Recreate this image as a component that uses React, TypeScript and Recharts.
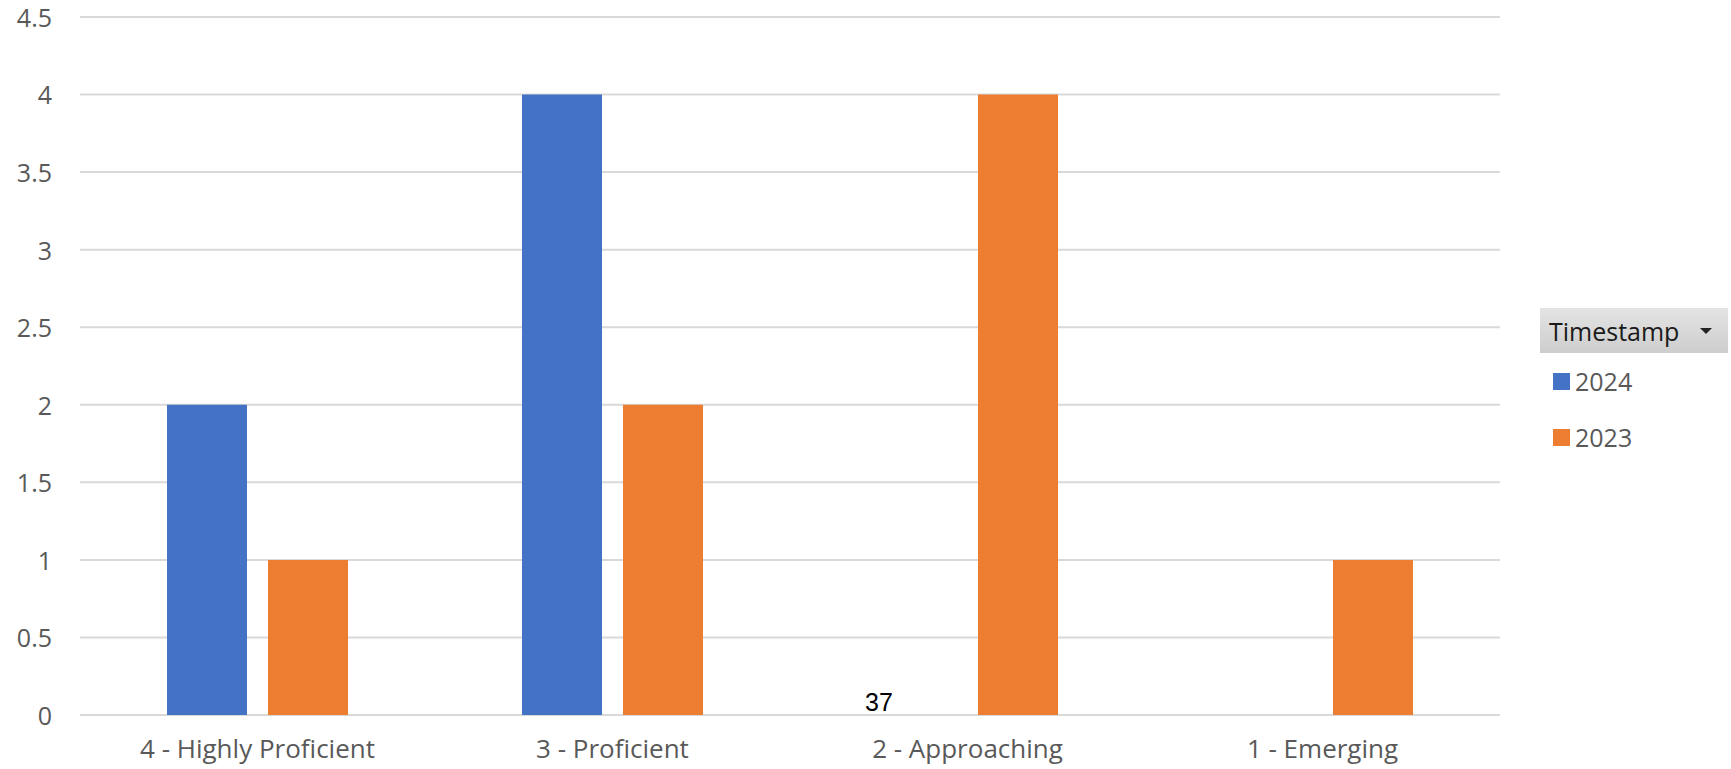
import { BarChart, Bar, XAxis, YAxis, CartesianGrid } from 'recharts';

const categories = ['4 - Highly Proficient', '3 - Proficient', '2 - Approaching', '1 - Emerging'];
const values2024 = [2, 4, 0, 0];
const values2023 = [1, 2, 4, 1];
const yTicks = [0, 0.5, 1, 1.5, 2, 2.5, 3, 3.5, 4, 4.5];
const seriesNames = ['2024', '2023'];

const BLUE = '#4472C4';
const ORANGE = '#ED7D31';

const data = categories.map((name, i) => ({
  name,
  y2024: values2024[i],
  y2023: values2023[i],
}));

const font = '"Open Sans", Lato, sans-serif';

function LegendBox() {
  const colors = [BLUE, ORANGE];
  return (
    <div style={{ position: 'absolute', left: 1540, top: 308, width: 188, fontFamily: font }}>
      <div
        style={{
          height: 45,
          background: 'linear-gradient(#e4e4e4, #cdcdcd)',
          display: 'flex',
          alignItems: 'center',
          paddingLeft: 9,
          fontSize: 25,
          color: '#1a1a1a',
          position: 'relative',
        }}
      >
        Timestamp
        <div
          style={{
            position: 'absolute',
            right: 16,
            top: 20,
            width: 0,
            height: 0,
            borderLeft: '6px solid transparent',
            borderRight: '6px solid transparent',
            borderTop: '6px solid #222',
          }}
        />
      </div>
      {seriesNames.map((label, i) => (
        <div
          key={i}
          style={{
            display: 'flex',
            alignItems: 'center',
            height: 34,
            marginTop: i === 0 ? 11 : 22,
            fontSize: 25,
            color: '#595959',
          }}
        >
          <div style={{ width: 17, height: 17, background: colors[i], marginLeft: 13, marginRight: 5 }} />
          {label}
        </div>
      ))}
    </div>
  );
}

export default function App() {
  return (
    <div style={{ position: 'absolute', left: 0, top: 0, width: 1731, height: 769, background: '#fff' }}>
      <BarChart
        width={1731}
        height={769}
        data={data}
        margin={{ top: 17, right: 231, bottom: 0, left: 0 }}
        barSize={80}
        barGap={21}
      >
        <CartesianGrid vertical={false} stroke="#d9d9d9" strokeWidth={2} />
        <XAxis
          dataKey="name"
          axisLine={false}
          tickLine={false}
          tickSize={0}
          tickMargin={25}
          height={54}
          tick={{ fill: '#595959', fontSize: 26, fontFamily: font }}
        />
        <YAxis
          domain={[0, 4.5]}
          ticks={yTicks}
          axisLine={false}
          tickLine={false}
          tickSize={0}
          tickMargin={28}
          width={80}
          tick={{ fill: '#595959', fontSize: 25, fontFamily: font, dy: 1 }}
        />
        <Bar dataKey="y2024" name={seriesNames[0]} fill={BLUE} isAnimationActive={false} />
        <Bar dataKey="y2023" name={seriesNames[1]} fill={ORANGE} isAnimationActive={false} />
      </BarChart>
      <LegendBox />
      <div
        style={{
          position: 'absolute',
          left: 865,
          top: 688,
          fontFamily: '"Liberation Sans", Arial, sans-serif',
          fontSize: 25,
          color: '#000',
          lineHeight: '28px',
        }}
      >
        37
      </div>
    </div>
  );
}
